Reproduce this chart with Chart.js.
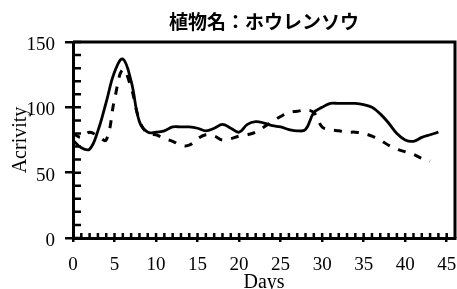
<!DOCTYPE html>
<html>
<head>
<meta charset="utf-8">
<script src="https://cdn.jsdelivr.net/npm/chart.js@4.4.0/dist/chart.umd.min.js"></script>
<style>
html, body { margin: 0; padding: 0; background: #fff; }
</style>
</head>
<body>
<canvas id="myChart" width="457" height="289"></canvas>
<script>
// days on the x axis
var days = [0,1,2,3,4,5,6,7,8,9,10,11,12,13,14,15,16,17,18,19,20,21,22,23,24,25,26,27,28,29,30,31,32,33,34,35,36,37,38,39,40,41,42,43,44];
// solid line
var solidValues = [75,69,68,82,104,127,137,120,89,81,81,82,85,85,85,84,82,84,87,84,81,87,89,88,86,85,83,82,83,96,100,103,103,103,103,102,100,95,88,80,75,74,77,79,81];
// dashed line (one day shorter)
var dashedValues = [80,77,81,78,75,106,129,115,90,80,79,76,74,71,71,76,79,78,75,76,78,79,81,85,89,93,96,97,98,96,85,83,82,81,81,80,78,75,71,68,66,64,61,59];
var xTicks = [0,5,10,15,20,25,30,35,40,45];
var yTicks = [0,50,100,150];

function toPoints(values) {
    return values.map(function (v, i) { return {x: days[i], y: v}; });
}

// frame on top/right + small ticks pointing into the plot
var framePlugin = {
    id: 'frame',
    afterDraw: function (chart) {
        var c = chart.ctx, a = chart.chartArea;
        var xs = chart.scales.x, ys = chart.scales.y;
        c.save();
        c.strokeStyle = '#000';
        c.lineWidth = 3;
        c.beginPath();
        c.moveTo(a.left, a.top);
        c.lineTo(a.right, a.top);
        c.lineTo(a.right, a.bottom);
        c.stroke();
        c.lineWidth = 2.5;
        c.beginPath();
        for (var v = 0; v <= 150; v += 10) {
            var py = ys.getPixelForValue(v);
            c.moveTo(a.left, py);
            c.lineTo(a.left + 8, py);
        }
        for (var d = 1; d <= 45; d++) {
            var px = xs.getPixelForValue(d);
            c.moveTo(px, a.bottom);
            c.lineTo(px, a.bottom - 5);
        }
        c.stroke();
        c.restore();
    }
};

Chart.defaults.font.family = "'Liberation Serif', serif";
Chart.defaults.color = '#000';

var ctx = document.getElementById('myChart').getContext('2d');
var chart = new Chart(ctx, {
    type: 'line',
    data: {
        datasets: [{
            label: 'solid',
            data: toPoints(solidValues),
            borderColor: '#000',
            borderWidth: 2.8,
            pointRadius: 0,
            tension: 0.4,
            fill: false
        }, {
            label: 'dashed',
            data: toPoints(dashedValues),
            borderColor: '#000',
            borderWidth: 3,
            borderDash: [8, 9],
            pointRadius: 0,
            tension: 0.4,
            fill: false
        }]
    },
    options: {
        responsive: false,
        animation: false,
        devicePixelRatio: 1,
        layout: { padding: { left: 0, right: 2, top: 0, bottom: 0 } },
        plugins: {
            legend: { display: false },
            tooltip: { enabled: false },
            title: {
                display: true,
                text: '植物名：ホウレンソウ',
                fullSize: false,
                color: '#000',
                font: { family: "'Noto Sans CJK JP', sans-serif", size: 19, weight: 'bold', lineHeight: 1.2 },
                padding: { top: 10, bottom: 9.2 }
            }
        },
        scales: {
            x: {
                type: 'linear',
                min: 0,
                max: 46,
                grid: {
                    drawOnChartArea: false,
                    tickLength: 4,
                    lineWidth: 2.5,
                    tickColor: function (c) {
                        return c.tick && xTicks.indexOf(c.tick.value) >= 0 ? '#000' : 'rgba(0,0,0,0)';
                    }
                },
                border: { display: true, color: '#000', width: 3 },
                ticks: {
                    stepSize: 1,
                    autoSkip: false,
                    maxRotation: 0,
                    padding: 12,
                    font: { size: 19 },
                    callback: function (v) { return xTicks.indexOf(v) >= 0 ? v : ''; }
                },
                title: {
                    display: true,
                    text: 'Days',
                    font: { size: 20, lineHeight: 0.6 },
                    padding: 0
                },
                afterFit: function (s) {
                    s.height = 51;
                    s.paddingLeft = 0;
                    s.paddingRight = 0;
                }
            },
            y: {
                min: 0,
                max: 150,
                grid: {
                    drawOnChartArea: false,
                    tickLength: 8,
                    lineWidth: 2.5,
                    tickColor: function (c) {
                        return c.tick && yTicks.indexOf(c.tick.value) >= 0 ? '#000' : 'rgba(0,0,0,0)';
                    }
                },
                border: { display: true, color: '#000', width: 3 },
                ticks: {
                    stepSize: 10,
                    autoSkip: false,
                    padding: 10,
                    labelOffset: 3,
                    font: { size: 19 },
                    callback: function (v) { return yTicks.indexOf(v) >= 0 ? v : ''; }
                },
                title: {
                    display: true,
                    text: 'Acrivity',
                    font: { size: 20, lineHeight: 1 },
                    padding: { top: 11, bottom: 0 }
                },
                afterFit: function (s) { s.width = 73; }
            }
        }
    },
    plugins: [framePlugin]
});
</script>
</body>
</html>
